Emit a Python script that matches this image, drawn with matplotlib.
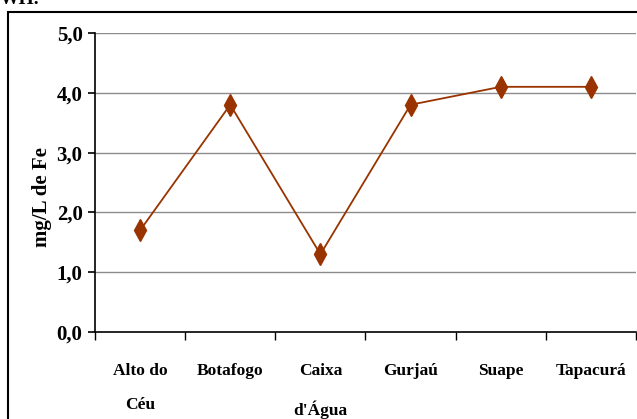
import matplotlib
matplotlib.use("Agg")
import matplotlib.pyplot as plt
from matplotlib.patches import Rectangle

categories = ["Alto do\nCéu", "Botafogo", "Caixa\nd'Água", "Gurjaú", "Suape", "Tapacurá"]
fe_values = [1.7, 3.8, 1.3, 3.8, 4.1, 4.1]
y_ticks = [0, 1, 2, 3, 4, 5]
y_labels = ["0,0", "1,0", "2,0", "3,0", "4,0", "5,0"]

plt.rcParams['font.family'] = ['Liberation Serif', 'DejaVu Serif']
plt.rcParams['font.weight'] = 'bold'

fig = plt.figure(figsize=(6.37, 4.19), dpi=100)
ax = fig.add_axes([95/637, 1 - 332/419, 541/637, 299/419])

x = list(range(len(categories)))
ax.plot(x, fe_values, color='#993300', lw=1.3, marker='d', ms=11,
        markerfacecolor='#993300', markeredgecolor='#993300', zorder=3)

ax.set_xlim(-0.5, len(categories) - 0.5)
ax.set_ylim(0, 5)
ax.set_yticks(y_ticks)
ax.set_yticklabels(y_labels, fontsize=15, fontweight='bold')
ax.set_xticks(x)
ax.set_xticklabels(categories, fontsize=12.5, fontweight='bold', linespacing=2.5)
ax.set_xticks([i - 0.5 for i in range(len(categories) + 1)], minor=True)
ax.tick_params(axis='x', which='major', length=0, pad=22)
ax.tick_params(axis='x', which='minor', length=6, width=1, direction='out', bottom=True)
ax.tick_params(axis='y', length=5, width=1.2, pad=4)
ax.set_ylabel("mg/L de Fe", fontsize=15, fontweight='bold')
ax.yaxis.set_label_coords(-0.079, 0.45)

for y in y_ticks[1:]:
    ax.axhline(y, color='#8c8c8c', lw=1, zorder=1)

for s in ['top', 'right']:
    ax.spines[s].set_visible(False)
ax.spines['left'].set_linewidth(1.2)
ax.spines['bottom'].set_linewidth(1.2)

# outer chart border
fig.patches.append(Rectangle((8/637, -0.1), 1.0, 1 - 12/419 + 0.1,
                             transform=fig.transFigure, fill=False,
                             edgecolor='black', lw=1.5))
fig.text(0.0, 1.0, "WH.", fontsize=14, va='center', ha='left')

fig.savefig("out.png", dpi=100)
